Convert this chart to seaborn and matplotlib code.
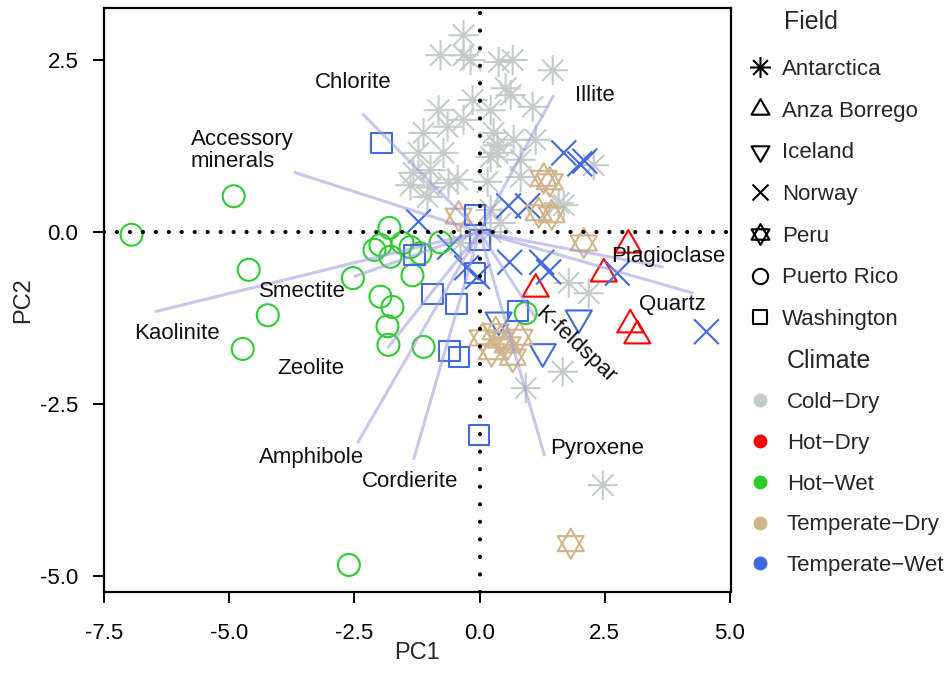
import numpy as np
import pandas as pd
import matplotlib
matplotlib.use("Agg")
import matplotlib.pyplot as plt
import seaborn as sns
from matplotlib.path import Path
from matplotlib.lines import Line2D

sns.set_style("white")
plt.rcParams["font.family"] = ["Liberation Sans", "DejaVu Sans"]

# ---------------- data ----------------
antarctica_pc1 = [-0.32, -0.78, -0.32, -0.18, 0.38, 0.66, 1.46, 0.52, 0.62, -0.14, 1.06, 0.22,
                  -0.82, -1.12, -0.64, -0.32, 0.28, 0.36, 0.68, 1.12, -1.22, -0.72, 0.36, -1.32,
                  -0.98, -0.44, 2.28, 1.58, 0.22, 0.82, -1.38, -0.98, -0.62, 0.16, 0.82, -1.04,
                  0.22, 0.42, 1.68, 0.22, -0.38, 1.78, 2.18, 1.66, 0.92, 2.46]
antarctica_pc2 = [2.86, 2.57, 2.57, 2.50, 2.47, 2.50, 2.35, 2.09, 1.99, 1.92, 1.82, 1.77,
                  1.77, 1.44, 1.53, 1.63, 1.44, 1.26, 1.34, 1.34, 1.15, 1.15, 1.15, 0.86,
                  0.90, 0.76, 0.97, 0.42, 1.09, 1.05, 0.68, 0.65, 0.71, 0.73, 0.80, 0.51,
                  0.32, 0.13, 0.39, 0.00, -0.16, -0.74, -0.89, -2.03, -2.27, -3.68]

anza_pc1 = [2.97, 2.48, 1.12, 3.01, 3.15]
anza_pc2 = [-0.19, -0.61, -0.83, -1.35, -1.51]

iceland_pc1 = [0.38, 1.98, 1.26]
iceland_pc2 = [-1.28, -1.25, -1.74]

norway_pc1 = [1.68, 2.00, 2.10, 0.58, 0.96, -1.22, -0.60, -0.26, -0.04, 0.60, 1.24, 1.38, 2.75, 4.53]
norway_pc2 = [1.15, 0.99, 1.03, 0.38, 0.38, 0.15, -0.22, -0.52, -0.65, -0.44, -0.44, -0.58, -0.60, -1.45]

peru_pc1 = [1.28, 1.40, 1.18, 1.44, -0.42, 2.08, 0.06, 0.32, 0.56, 0.24, 0.80, 0.66, 0.42, 1.82]
peru_pc2 = [0.78, 0.73, 0.28, 0.25, 0.23, -0.16, -1.54, -1.45, -1.64, -1.74, -1.53, -1.82, -1.57, -4.53]

puerto_pc1 = [-6.95, -4.91, -4.61, -4.23, -4.73, -2.53, -1.98, -1.74, -1.84, -1.82, -1.12, -1.80,
              -2.10, -1.98, -1.78, -1.54, -1.38, -1.18, -1.34, -0.78, 0.92, -2.61]
puerto_pc2 = [-0.04, 0.52, -0.55, -1.21, -1.70, -0.67, -0.94, -1.09, -1.37, -1.64, -1.67, 0.06,
              -0.26, -0.19, -0.36, -0.16, -0.22, -0.31, -0.63, -0.15, -1.18, -4.84]

washington_pc1 = [-1.96, -0.10, 0.00, -1.30, -0.94, -0.46, -0.10, 0.76, -0.60, -0.42, -0.02]
washington_pc2 = [1.29, 0.25, -0.12, -0.33, -0.90, -1.05, -0.60, -1.15, -1.73, -1.82, -2.95]

fields = ["Antarctica", "Anza Borrego", "Iceland", "Norway", "Peru", "Puerto Rico", "Washington"]
field_climate = ["Cold-Dry", "Hot-Dry", "Temperate-Wet", "Temperate-Wet", "Temperate-Dry",
                 "Hot-Wet", "Temperate-Wet"]
climates = ["Cold-Dry", "Hot-Dry", "Hot-Wet", "Temperate-Dry", "Temperate-Wet"]
climate_colors = ["#C3CCCB", "#FF0000", "#2ECC2E", "#D2B48C", "#4169E1"]

# loading vectors (minerals)
minerals = ["Chlorite", "Accessory\nminerals", "Illite", "Smectite", "Kaolinite", "Zeolite",
            "Amphibole", "Cordierite", "Pyroxene", "K-feldspar", "Plagioclase", "Quartz"]
load_pc1 = [-2.34, -3.71, 1.48, -2.51, -6.49, -1.84, -2.44, -1.32, 1.30, 1.12, 3.67, 4.27]
load_pc2 = [1.72, 0.87, 1.99, -0.65, -1.16, -1.69, -3.07, -3.31, -3.26, -1.25, -0.51, -0.89]
label_pc1 = [-2.53, -5.77, 2.30, -3.53, -6.05, -3.37, -3.35, -1.38, 2.34, 1.92, 3.77, 3.85]
label_pc2 = [2.17, 1.18, 1.98, -0.86, -1.48, -1.99, -3.28, -3.63, -3.15, -1.64, -0.36, -1.06]
label_rot = [0, 0, 0, 0, 0, 0, 0, 0, 0, -43, 0, 0]
label_ha = ["center", "left", "center", "center", "center", "center", "center", "center",
            "center", "center", "center", "center"]

xticks = [-7.5, -5.0, -2.5, 0.0, 2.5, 5.0]
yticks = [-5.0, -2.5, 0.0, 2.5]

pc1_lists = [antarctica_pc1, anza_pc1, iceland_pc1, norway_pc1, peru_pc1, puerto_pc1, washington_pc1]
pc2_lists = [antarctica_pc2, anza_pc2, iceland_pc2, norway_pc2, peru_pc2, puerto_pc2, washington_pc2]

rows = []
for f, c, xs, ys in zip(fields, field_climate, pc1_lists, pc2_lists):
    for a, b in zip(xs, ys):
        rows.append((f, c, a, b))
df = pd.DataFrame(rows, columns=["Field", "Climate", "PC1", "PC2"])

# ---------------- marker shapes ----------------
def asterisk_path():
    v, c = [], []
    for ang in [0, 45, 90, 135]:
        a = np.deg2rad(ang)
        v += [(np.cos(a), np.sin(a)), (-np.cos(a), -np.sin(a))]
        c += [Path.MOVETO, Path.LINETO]
    return Path(v, c)

def tri_path(up=True):
    s = 1 if up else -1
    return Path([(0, s), (-0.866, -0.5 * s), (0.866, -0.5 * s), (0, s)],
                [Path.MOVETO, Path.LINETO, Path.LINETO, Path.CLOSEPOLY])

def cross_path():
    return Path([(-1, -1), (1, 1), (-1, 1), (1, -1)],
                [Path.MOVETO, Path.LINETO, Path.MOVETO, Path.LINETO])

def star_path():
    v = [(0, 1), (-0.866, -0.5), (0.866, -0.5), (0, 1),
         (0, -1), (-0.866, 0.5), (0.866, 0.5), (0, -1)]
    c = [Path.MOVETO, Path.LINETO, Path.LINETO, Path.CLOSEPOLY] * 2
    return Path(v, c)

def square_path():
    return Path([(-1, -1), (1, -1), (1, 1), (-1, 1), (-1, -1)],
                [Path.MOVETO, Path.LINETO, Path.LINETO, Path.LINETO, Path.CLOSEPOLY])

field_markers = {
    "Antarctica": asterisk_path(),
    "Anza Borrego": tri_path(True),
    "Iceland": tri_path(False),
    "Norway": cross_path(),
    "Peru": star_path(),
    "Puerto Rico": Path.unit_circle(),
    "Washington": square_path(),
}
field_sizes = {"Antarctica": 470, "Anza Borrego": 470, "Iceland": 470, "Norway": 320,
               "Peru": 470, "Puerto Rico": 250, "Washington": 210}

palette = dict(zip(climates, climate_colors))

FS = 16

# ---------------- figure ----------------
fig = plt.figure(figsize=(9.53, 6.87), dpi=100)
ax = fig.add_axes([104 / 953, 1 - 592 / 687, (731 - 104) / 953, (592 - 8) / 687])

for f in fields:
    sub = df[df["Field"] == f]
    sns.scatterplot(data=sub, x="PC1", y="PC2", hue="Climate", palette=palette,
                    marker=field_markers[f], s=field_sizes[f], legend=False, ax=ax,
                    zorder=2)

for coll in ax.collections:
    fc = coll.get_facecolors()
    coll.set_edgecolors(fc)
    coll.set_facecolors("none")
    coll.set_linewidths(1.5)

# loadings
for name, x1, y1, lx, ly, rot, ha in zip(minerals, load_pc1, load_pc2, label_pc1, label_pc2,
                                         label_rot, label_ha):
    ax.plot([0, x1], [0, y1], color="#9A9ADE", lw=2.2, alpha=0.55, zorder=3,
            solid_capstyle="butt")
    ax.text(lx, ly, name, ha=ha, va="center", rotation=rot, fontsize=FS,
            color="#111111", zorder=5, linespacing=1.05, rotation_mode="anchor")

# dotted reference lines
ax.axhline(0, color="black", lw=3.0, ls=(0, (0.01, 3.1)), dash_capstyle="round", zorder=4)
ax.axvline(0, color="black", lw=3.0, ls=(0, (0.01, 4.2)), dash_capstyle="round", zorder=4)

ax.set_xlim(-7.5, 5.02)
ax.set_ylim(-5.233, 3.256)
ax.set_xticks(xticks)
ax.set_yticks(yticks)
ax.set_xticklabels([f"{t:.1f}" for t in xticks])
ax.set_yticklabels([f"{t:.1f}" for t in yticks])
ax.tick_params(direction="out", length=8, width=1.4, labelsize=FS,
               left=True, bottom=True, colors="black")
ax.tick_params(axis="x", pad=14)
ax.tick_params(axis="y", pad=10.5)
for sp in ax.spines.values():
    sp.set_linewidth(1.6)
    sp.set_color("black")
ax.set_xlabel("PC1", fontsize=17, labelpad=-1)
ax.set_ylabel("PC2", fontsize=17, labelpad=4)

# legends
field_handles = [Line2D([], [], marker=field_markers[f], linestyle="None", markersize=
                        {"Puerto Rico": 11, "Washington": 10.5, "Norway": 11.5}.get(f, 15),
                        markerfacecolor="none", markeredgecolor="black", markeredgewidth=1.5)
                 for f in fields]
leg1 = fig.legend(field_handles, fields, loc="upper left", bbox_to_anchor=(750 / 953, 1 - 59 / 687),
                  frameon=False, fontsize=FS, handlelength=0.9, handletextpad=0.55,
                  labelspacing=0.93, borderpad=0, borderaxespad=0)
clim_handles = [Line2D([], [], marker="o", linestyle="None", markersize=9,
                       markerfacecolor=c, markeredgecolor=c) for c in climate_colors]
clim_labels = [c.replace("-", "\u2212") for c in climates]
leg2 = fig.legend(clim_handles, clim_labels, loc="upper left", bbox_to_anchor=(750 / 953, 1 - 392 / 687),
                  frameon=False, fontsize=FS, handlelength=0.9, handletextpad=0.75,
                  labelspacing=0.89, borderpad=0, borderaxespad=0)
fig.text(784 / 953, 1 - 22 / 687, "Field", fontsize=18, va="center", ha="left")
fig.text(787 / 953, 1 - 361 / 687, "Climate", fontsize=18, va="center", ha="left")

fig.savefig("out.png", dpi=100)
